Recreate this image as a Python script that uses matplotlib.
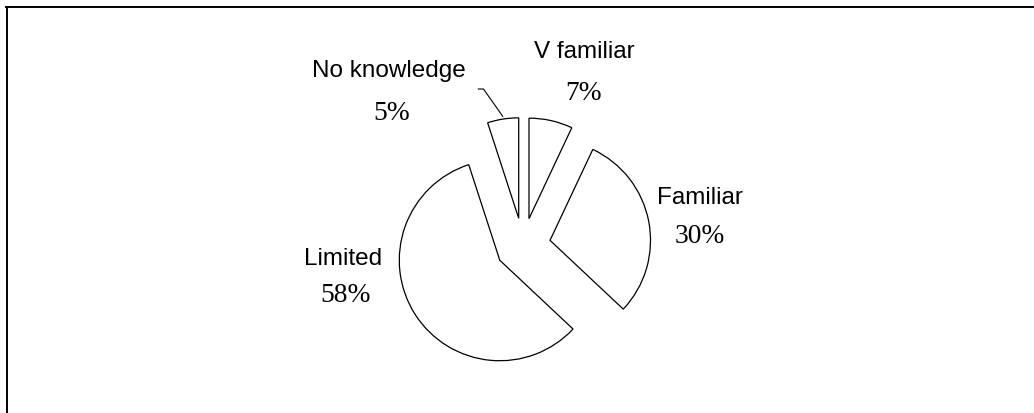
import matplotlib
matplotlib.use("Agg")
import matplotlib.pyplot as plt
from matplotlib.lines import Line2D

categories = ["V familiar", "Familiar", "Limited", "No knowledge"]
values = [7, 30, 58, 5]

W, H = 1034, 414
fig = plt.figure(figsize=(W / 100, H / 100), dpi=100)
ax = fig.add_axes([0, 0, 1, 1])

# pie geometry in pixel units (y measured upward)
cx, cy, r, expl = 523, H - 246.5, 100.5, 27.5
ax.pie(values, startangle=90, counterclock=False, explode=[expl] * len(values),
       radius=r, center=(cx, cy),
       wedgeprops=dict(facecolor="white", edgecolor="black", linewidth=0.9))
ax.set_xlim(0, W)
ax.set_ylim(0, H)
ax.set_aspect("equal")
ax.axis("off")

# label positions (x center, baseline of name, baseline of percent) in pixels from top
label_pos = {
    "V familiar": (584, 58, 584, 100),
    "Familiar": (700, 204.5, 700, 243),
    "Limited": (343, 265, 346, 302.5),
    "No knowledge": (389, 77, 392, 120.5),
}
for name, val in zip(categories, values):
    nx, ny, px, py = label_pos[name]
    ax.text(nx, H - ny, name, ha="center", va="baseline",
            fontfamily="Liberation Sans", fontsize=17.5, color="black")
    ax.text(px, H - py, f"{val}%", ha="center", va="baseline",
            fontfamily="Liberation Serif", fontsize=19.8, color="black")

# leader line for the small slice
ax.plot([478.3, 483.5, 502.7], [H - 90, H - 90, H - 117.3], color="black", lw=0.8)

# chart area border (left and top only visible)
fig.add_artist(Line2D([6.7 / W, 6.7 / W], [0, 1 - 7.5 / H], transform=fig.transFigure,
                      color="black", lw=1.4))
fig.add_artist(Line2D([6.0 / W, 1], [1 - 7.5 / H, 1 - 7.5 / H], transform=fig.transFigure,
                      color="black", lw=1.4))

fig.savefig("out.png", dpi=100, facecolor="white")
